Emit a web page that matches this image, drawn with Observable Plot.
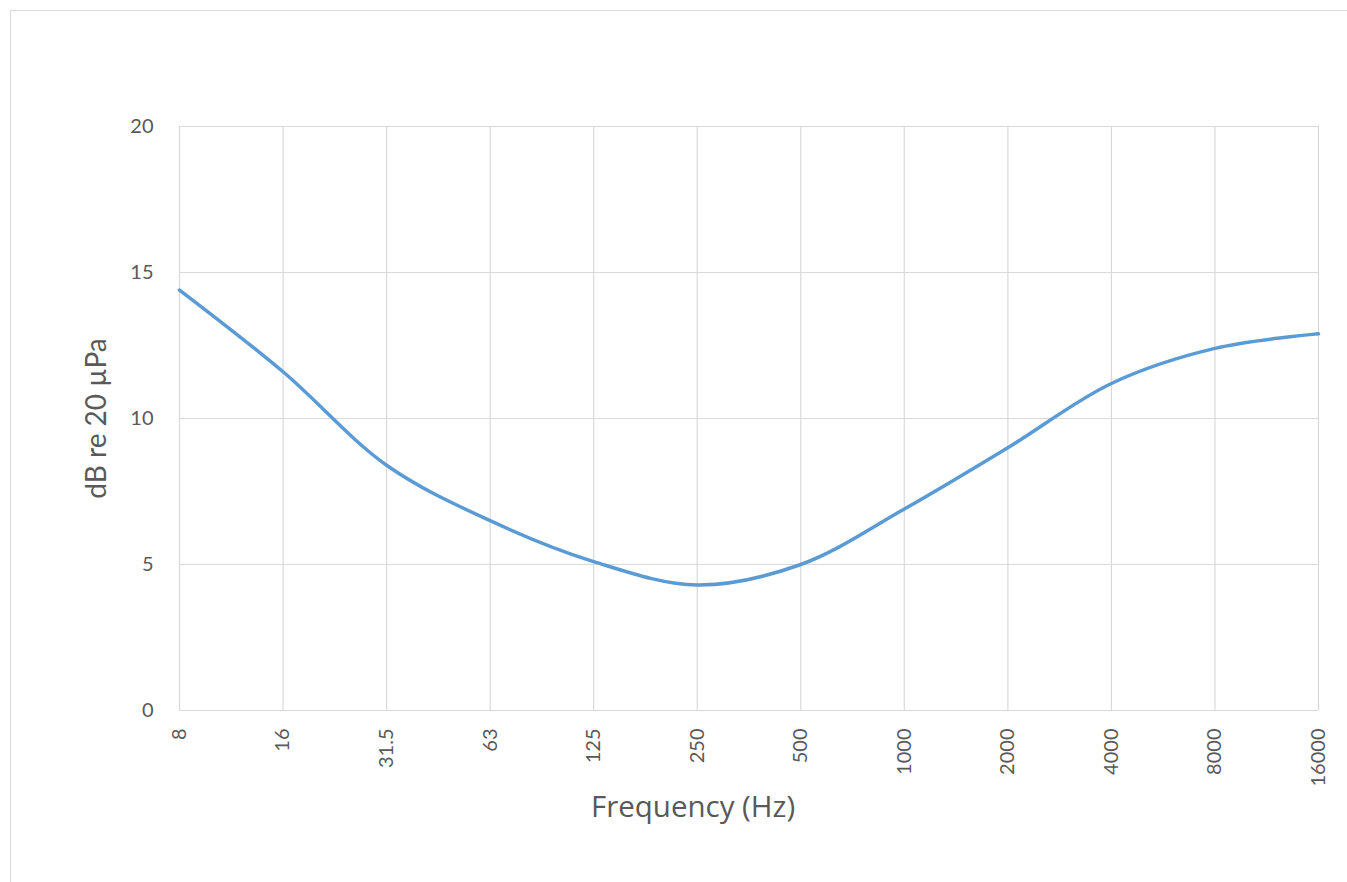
<!DOCTYPE html>
<html>
<head>
<meta charset="utf-8">
<script src="https://cdn.jsdelivr.net/npm/d3@7"></script>
<script src="https://cdn.jsdelivr.net/npm/@observablehq/plot@0.6"></script>
<style>
  html, body { margin: 0; padding: 0; background: #fff; overflow: hidden; }
  #wrap { position: relative; width: 1347px; height: 882px; }
  #border { position: absolute; left: 10px; top: 10px; width: 1400px; height: 900px; border-left: 1.5px solid #d9d9d9; border-top: 1.5px solid #d9d9d9; box-sizing: border-box; }
  #chart { position: absolute; left: 0; top: 0; }
</style>
</head>
<body>
<div id="wrap"><div id="border"></div><div id="chart"></div></div>
<script>
const freqLabels = ["8", "16", "31.5", "63", "125", "250", "500", "1000", "2000", "4000", "8000", "16000"];
const levels = [14.4, 11.6, 8.4, 6.5, 5.1, 4.3, 5.0, 6.9, 9.0, 11.2, 12.4, 12.9];
const yTicks = [0, 5, 10, 15, 20];
const yTitle = "dB re 20 µPa";
const xTitle = "Frequency (Hz)";

const data = freqLabels.map((f, i) => ({freq: f, level: levels[i]}));

const chart = Plot.plot({
  width: 1347,
  height: 882,
  marginLeft: 179,
  marginRight: 29,
  marginTop: 126,
  marginBottom: 172,
  style: {fontFamily: "Lato, 'Open Sans', sans-serif", fontSize: "20px", color: "#595959", background: "transparent"},
  x: {type: "point", domain: freqLabels, padding: 0, round: false},
  y: {domain: [0, 20]},
  marks: [
    Plot.gridY(yTicks, {stroke: "#d9d9d9", strokeOpacity: 1, strokeWidth: 1.2}),
    Plot.gridX(freqLabels, {stroke: "#d9d9d9", strokeOpacity: 1, strokeWidth: 1.2}),
    Plot.axisY(yTicks, {tickSize: 0, tickPadding: 26, label: null, fill: "#595959", fontSize: 20}),
    Plot.axisX(freqLabels, {tickSize: 0, tickRotate: -90, tickPadding: 18, label: null, fill: "#595959", fontSize: 20}),
    Plot.text([yTitle], {frameAnchor: "left", textAnchor: "middle", dx: -82, rotate: -90, fontSize: 28, fill: "#595959"}),
    Plot.text([xTitle], {frameAnchor: "bottom", textAnchor: "middle", dx: -56, dy: 106, fontSize: 29.5, fontFamily: "'Open Sans', sans-serif", fill: "#595959"}),
    Plot.line(data, {x: "freq", y: "level", stroke: "#5B9BD5", strokeWidth: 3.5, curve: "catmull-rom"})
  ]
});
document.getElementById("chart").appendChild(chart);
</script>
</body>
</html>
